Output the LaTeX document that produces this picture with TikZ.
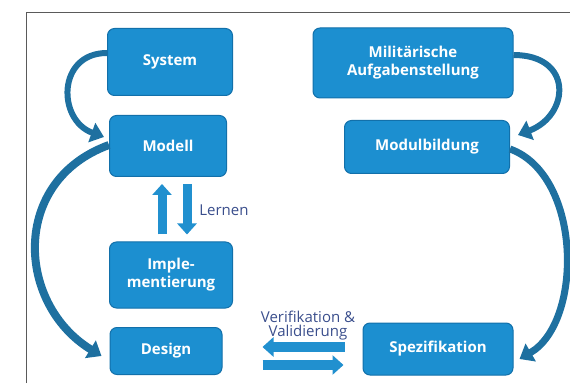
\documentclass[tikz,border=0pt]{standalone}
\usepackage{fontspec}
\setmainfont{Open Sans}
\usetikzlibrary{arrows.meta}
\definecolor{boxblue}{RGB}{28,143,208}
\definecolor{boxedge}{RGB}{18,112,170}
\definecolor{bowblue}{RGB}{30,112,160}
\definecolor{flatblue}{RGB}{33,144,207}
\definecolor{labelnavy}{RGB}{58,78,140}
\definecolor{framegray}{RGB}{90,90,90}
\begin{document}
\begin{tikzpicture}[x=1pt,y=1pt,
  block/.style={draw=boxedge,line width=1pt,fill=boxblue,rounded corners=7pt,text=white,
    font=\bfseries\fontsize{15}{18}\selectfont,align=center,inner sep=2pt},
  loopbow/.style={draw=bowblue,line width=6pt,-{Triangle[width=20pt,length=13pt]}},
  fatarrow/.style={draw=flatblue,line width=9pt,-{Triangle[width=19pt,length=11pt]}},
  sidenote/.style={text=labelnavy,font=\fontsize{15}{14}\selectfont,align=center}]
\useasboundingbox (0,0) rectangle (570,383);
\draw[framegray,line width=1pt] (26,0) -- (26,370) -- (570,370);
% left column
\node[block,minimum width=125pt,minimum height=67pt] (system) at (170,321) {System};
\node[block,minimum width=117pt,minimum height=61pt] (modell) at (168,237) {Modell};
\node[block,minimum width=123pt,minimum height=66pt] (impl) at (171,108) {Imple-\\mentierung};
\node[block,minimum width=112pt,minimum height=47pt] (design) at (166,32) {Design};
% right column
\node[block,minimum width=200pt,minimum height=70pt] (militaer) at (413,320) {Militärische\\Aufgabenstellung};
\node[block,minimum width=165pt,minimum height=53pt] (modul) at (427,236) {Modulbildung};
\node[block,minimum width=150pt,minimum height=52pt] (spez) at (438,34) {Spezifikation};
% bows
\draw[loopbow] ([yshift=9pt]system.west) .. controls +(-50,0) and +(-47,17) .. ([shift={(-5pt,9pt)}]modell.west);
\draw[loopbow,line width=8pt] ([yshift=1pt]modell.west) .. controls +(-99,-36) and +(-85,52) .. ([shift={(-8pt,-5pt)}]design.west);
\draw[loopbow] ([yshift=8pt]militaer.east) .. controls +(60,0) and +(52,20) .. ([shift={(8pt,12pt)}]modul.east);
\draw[loopbow,line width=7pt] ([yshift=-2pt]modul.east) .. controls +(72,-26) and +(64,37) .. ([shift={(6pt,-10pt)}]spez.east);
% straight arrows
\draw[fatarrow,shorten <=7pt,shorten >=7pt] ([xshift=-9pt]impl.north) -- ([xshift=-6pt]modell.south);
\draw[fatarrow,shorten <=7pt,shorten >=7pt] ([xshift=19pt]modell.south) -- ([xshift=16pt]impl.north);
\draw[fatarrow,line width=10pt,shorten <=18pt,shorten >=40pt] ([yshift=2pt]spez.west) -- ([yshift=2pt]spez.west -| design.east);
\draw[fatarrow,line width=10pt,shorten <=40pt,shorten >=19pt] ([yshift=-16pt]spez.west -| design.east) -- ([yshift=-16pt]spez.west);
% labels
\node[sidenote] (lernen) at (224,173) {Lernen};
\node[sidenote] (vv) at (308,57) {Verifikation \&\\Validierung};
\end{tikzpicture}
\end{document}
